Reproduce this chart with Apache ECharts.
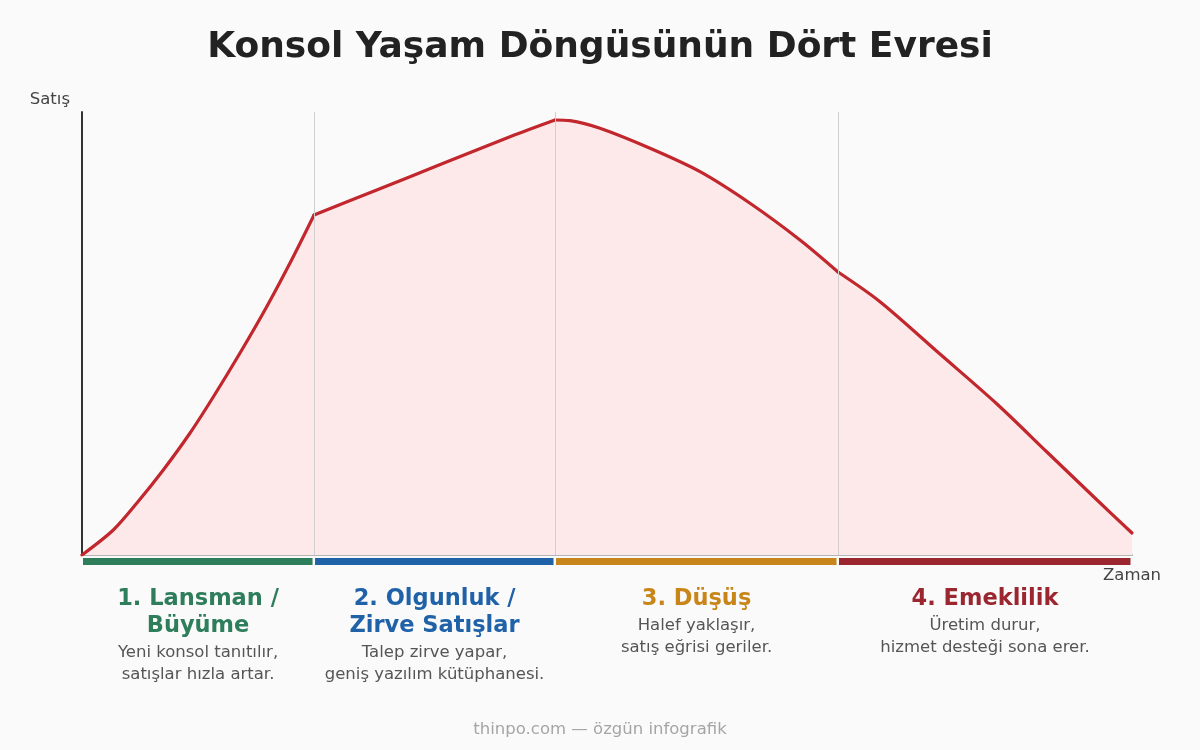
<!DOCTYPE html>
<html>
<head>
<meta charset="utf-8">
<title>Konsol Yaşam Döngüsü</title>
<script src="https://cdn.jsdelivr.net/npm/echarts@6/dist/echarts.min.js"></script>
<style>
  html, body { margin: 0; padding: 0; background: #fafafa; }
  #chart { width: 1200px; height: 750px; }
</style>
</head>
<body>
<div id="chart"></div>
<script>
// zaman ekseni (0-100) ve satış (0-100) değerleri
let timeVals = [0, 2.98, 5.21, 7.74, 10.29, 12.5, 15.05, 17.59, 20.12, 22.1,
  28.07, 34.41, 40.76, 45.05,
  46.48, 49.33, 54.1, 58.86, 63.62, 68.38, 72,
  76, 81.71, 87.14, 91.9, 96.67, 100]
let salesVals = [0, 5.64, 11.67, 19.19, 27.54, 35.67, 45.6, 56.05, 67.34, 76.75,
  82.39, 88.42, 94.42, 98.19,
  98.04, 96.32, 91.8, 86.52, 79.39, 71.1, 63.88,
  57.18, 45.37, 34.09, 23.25, 12.42, 4.97]

// evreler
let phaseStart = [0, 22.1, 45.05, 72]
let phaseEnd = [22.1, 45.05, 72, 100]
let phaseTitles = ['1. Lansman /\nBüyüme', '2. Olgunluk /\nZirve Satışlar', '3. Düşüş', '4. Emeklilik']
let phaseNotes = ['Yeni konsol tanıtılır,\nsatışlar hızla artar.', 'Talep zirve yapar,\ngeniş yazılım kütüphanesi.',
  'Halef yaklaşır,\nsatış eğrisi geriler.', 'Üretim durur,\nhizmet desteği sona erer.']
let phaseColors = ['#2e7d5b', '#1f62a8', '#c8861a', '#9b2630']

let font = 'DejaVu Sans'
let myChart = echarts.init(document.getElementById('chart'))

let phaseData = phaseStart.map((s, i) => [s, phaseEnd[i]])

// her evre kendi eğrisi: sınırlarda kırılma korunur
let curveSeries = phaseStart.map((s, i) => {
  let pts = []
  timeVals.forEach((t, k) => {
    if (t >= s && t <= phaseEnd[i]) pts.push([t, salesVals[k]])
  })
  let ser = {
    type: 'line',
    data: pts,
    smooth: 0.3,
    symbol: 'none',
    lineStyle: { color: '#c1272d', width: 3.2, cap: 'round' },
    areaStyle: { color: '#fde9e9', opacity: 1 },
    z: 3
  }
  if (i == 0) {
    ser.markLine = {
      silent: true,
      symbol: 'none',
      label: { show: false },
      lineStyle: { color: '#cfcfcf', width: 1, type: 'solid' },
      data: phaseEnd.slice(0, 3).map(v => ({ xAxis: v }))
    }
  }
  return ser
})

let option = {
  backgroundColor: '#fafafa',
  animation: false,
  textStyle: { fontFamily: font },
  title: {
    text: 'Konsol Yaşam Döngüsünün Dört Evresi',
    left: 'center',
    top: 25,
    textStyle: { fontFamily: font, fontSize: 36, fontWeight: 'bold', color: '#222' }
  },
  grid: [
    { left: 82, right: 68, top: 112, bottom: 195 },
    { left: 82, right: 68, top: 558, height: 7 }
  ],
  xAxis: [
    {
      type: 'value', min: 0, max: 100,
      axisLine: { show: true, lineStyle: { color: '#b5b5b5', width: 2 } },
      axisTick: { show: false }, axisLabel: { show: false }, splitLine: { show: false }
    },
    { type: 'value', gridIndex: 1, min: 0, max: 100, show: false }
  ],
  yAxis: [
    {
      type: 'value', min: 0, max: 100,
      axisLine: { show: true, lineStyle: { color: '#333', width: 2 } },
      axisTick: { show: false }, axisLabel: { show: false }, splitLine: { show: false }
    },
    { type: 'value', gridIndex: 1, min: 0, max: 1, show: false }
  ],
  series: curveSeries.concat([
    {
      type: 'custom',
      xAxisIndex: 1,
      yAxisIndex: 1,
      data: phaseData,
      renderItem: function (params, api) {
        let s = api.coord([api.value(0), 0])
        let e = api.coord([api.value(1), 1])
        return {
          type: 'rect',
          shape: { x: s[0] + 1, y: e[1], width: e[0] - s[0] - 2.5, height: s[1] - e[1] },
          style: { fill: phaseColors[params.dataIndex] }
        }
      }
    }
  ])
}
myChart.setOption(option)

// eksen adları ve evre açıklamaları
function txt(x, y, text, size, color, opts) {
  return {
    type: 'text', x: x, y: y,
    style: Object.assign({
      text: text, fontFamily: font, fontSize: size, fill: color,
      align: 'center', verticalAlign: 'middle'
    }, opts || {})
  }
}
let graphics = []
let origin = myChart.convertToPixel({ gridIndex: 0 }, [0, 100])
let corner = myChart.convertToPixel({ gridIndex: 0 }, [100, 0])
graphics.push(txt(origin[0] - 12, origin[1] - 12, 'Satış', 16.5, '#444', { align: 'right' }))
graphics.push(txt(corner[0], corner[1] + 21, 'Zaman', 16.5, '#444'))
phaseTitles.forEach((t, i) => {
  let cx = myChart.convertToPixel({ gridIndex: 0 }, [(phaseStart[i] + phaseEnd[i]) / 2, 0])[0]
  let lines = t.split('\n').length
  graphics.push(txt(cx, 586, t, 22.5, phaseColors[i], { fontWeight: 'bold', verticalAlign: 'top', lineHeight: 27 }))
  graphics.push(txt(cx, 598 + 27 * (lines - 1) + 28 - 11, phaseNotes[i], 16.5, '#555', { verticalAlign: 'top', lineHeight: 22 }))
})
graphics.push(txt(600, 730, 'thinpo.com — özgün infografik', 16.5, '#a5a5a5'))
myChart.setOption({ graphic: graphics })
</script>
</body>
</html>
